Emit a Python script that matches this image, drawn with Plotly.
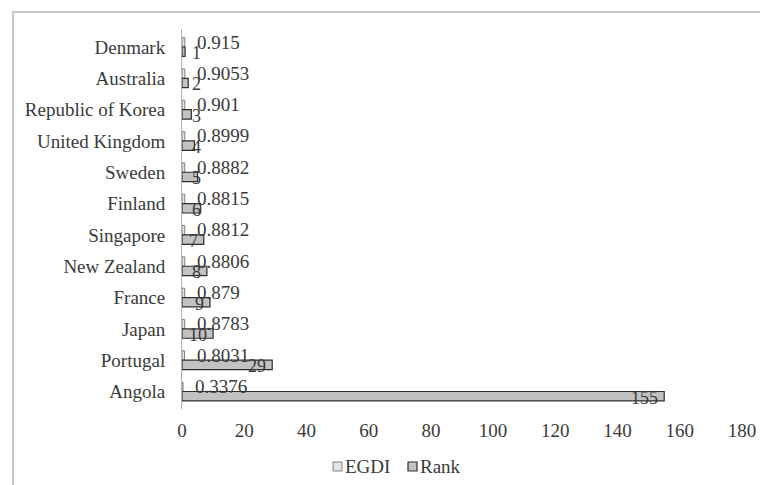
import plotly.graph_objects as go

countries = ["Denmark", "Australia", "Republic of Korea", "United Kingdom", "Sweden",
             "Finland", "Singapore", "New Zealand", "France", "Japan", "Portugal", "Angola"]
egdi = [0.915, 0.9053, 0.901, 0.8999, 0.8882, 0.8815, 0.8812, 0.8806, 0.879, 0.8783, 0.8031, 0.3376]
egdi_text = ["0.915", "0.9053", "0.901", "0.8999", "0.8882", "0.8815", "0.8812", "0.8806",
             "0.879", "0.8783", "0.8031", "0.3376"]
rank = [1, 2, 3, 4, 5, 6, 7, 8, 9, 10, 29, 155]
x_ticks = [0, 20, 40, 60, 80, 100, 120, 140, 160, 180]
series_names = ["EGDI", "Rank"]

FONT = "Liberation Serif, Times New Roman, serif"
TXT = "#3a3a3a"
EGDI_FILL, EGDI_LINE = "#e4e4e4", "#808080"
RANK_FILL, RANK_LINE = "#c2c2c2", "#2e2e2e"
LABEL_SIZE = 19
RANK_SIZE = 18

# plot area in pixels
L, R, T, B = 182, 742, 29, 409
W, H = 760, 485
X_MAX = 180
PX_PER_UNIT = (R - L) / X_MAX


def px_x(p):
    return (p - L) / (R - L)


def px_y(p):
    return (B - p) / (B - T)


fig = go.Figure()
fig.add_trace(go.Bar(
    y=countries, x=egdi, orientation="h", name=series_names[0],
    marker=dict(color=EGDI_FILL, line=dict(color=EGDI_LINE, width=1)),
))
fig.add_trace(go.Bar(
    y=countries, x=rank, orientation="h", name=series_names[1],
    marker=dict(color=RANK_FILL, line=dict(color=RANK_LINE, width=1.2)),
))

annotations = []
# EGDI value labels: just beyond the end of the EGDI bar
for c, v, t in zip(countries, egdi, egdi_text):
    annotations.append(dict(
        x=v, y=c, xref="x", yref="y", text=t, showarrow=False,
        xanchor="left", yanchor="middle", xshift=10, yshift=5,
        font=dict(family=FONT, size=LABEL_SIZE, color=TXT)))
# Rank value labels: inside end of the rank bar, kept right of the axis when the bar is short
for c, r in zip(countries, rank):
    s = str(r)
    text_w = len(s) * RANK_SIZE * 0.5
    if r * PX_PER_UNIT - 4 - text_w >= 8:
        annotations.append(dict(
            x=r, y=c, xref="x", yref="y", text=s, showarrow=False,
            xanchor="right", yanchor="middle", xshift=-4, yshift=-6,
            font=dict(family=FONT, size=RANK_SIZE, color=TXT)))
    else:
        annotations.append(dict(
            x=0, y=c, xref="x", yref="y", text=s, showarrow=False,
            xanchor="left", yanchor="middle", xshift=8, yshift=-6,
            font=dict(family=FONT, size=RANK_SIZE, color=TXT)))

shapes = [
    dict(type="rect", xref="paper", yref="paper",
         x0=px_x(13), x1=px_x(800), y0=px_y(520), y1=px_y(12),
         line=dict(color="#c8c8c8", width=2), fillcolor="rgba(0,0,0,0)", layer="below"),
    # legend swatches
    dict(type="rect", xref="paper", yref="paper",
         x0=px_x(333), x1=px_x(342), y0=px_y(471), y1=px_y(462),
         line=dict(color=EGDI_LINE, width=1), fillcolor=EGDI_FILL),
    dict(type="rect", xref="paper", yref="paper",
         x0=px_x(408), x1=px_x(417), y0=px_y(471), y1=px_y(462),
         line=dict(color=RANK_LINE, width=1.2), fillcolor=RANK_FILL),
]
annotations += [
    dict(text=series_names[0], xref="paper", yref="paper", x=px_x(343), y=px_y(466.5),
         xanchor="left", yanchor="middle", showarrow=False,
         font=dict(family=FONT, size=LABEL_SIZE, color=TXT)),
    dict(text=series_names[1], xref="paper", yref="paper", x=px_x(418), y=px_y(466.5),
         xanchor="left", yanchor="middle", showarrow=False,
         font=dict(family=FONT, size=LABEL_SIZE, color=TXT)),
]

fig.update_layout(
    width=W, height=H,
    margin=dict(l=L, r=W - R, t=T, b=H - B, autoexpand=False),
    paper_bgcolor="white", plot_bgcolor="white",
    barmode="group", bargap=0.4, bargroupgap=0,
    font=dict(family=FONT, size=LABEL_SIZE, color=TXT),
    showlegend=False,
    shapes=shapes, annotations=annotations,
)
fig.update_xaxes(range=[0, X_MAX], tickvals=x_ticks, ticktext=[str(t) for t in x_ticks],
                 showgrid=False, zeroline=False, showline=False, ticks="",
                 tickfont=dict(family=FONT, size=LABEL_SIZE, color=TXT), ticklabelstandoff=8,
                 automargin=False)
fig.update_yaxes(autorange="reversed", showgrid=False, zeroline=False,
                 showline=True, linecolor="#b4b4b4", linewidth=1, ticks="",
                 tickfont=dict(family=FONT, size=LABEL_SIZE, color=TXT), ticklabelstandoff=12,
                 automargin=False)

fig.write_html("out.html")
